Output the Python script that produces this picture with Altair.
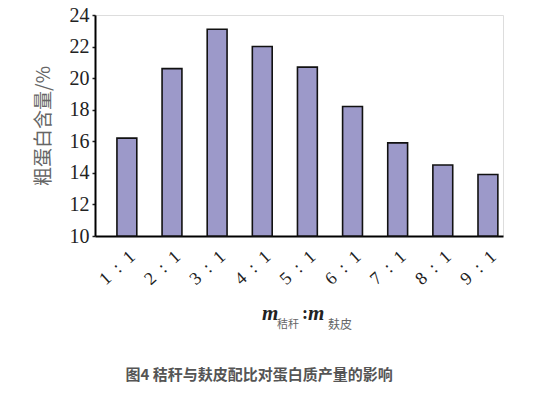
import altair as alt
import pandas as pd

ratios = ["1\u2002:\u20021", "2\u2002:\u20021", "3\u2002:\u20021", "4\u2002:\u20021", "5\u2002:\u20021",
          "6\u2002:\u20021", "7\u2002:\u20021", "8\u2002:\u20021", "9\u2002:\u20021"]
protein = [16.2, 20.6, 23.1, 22.0, 20.7, 18.2, 15.9, 14.5, 13.9]
y_ticks = [10, 12, 14, 16, 18, 20, 22, 24]
y_base = 10
y_title = "粗蛋白含量/%"
caption = "图4 秸秆与麸皮配比对蛋白质产量的影响"
m_sym = "m"
sub1 = "秸秆"
sub2 = "麸皮"

df = pd.DataFrame({"ratio": ratios, "protein": protein})

bars = alt.Chart(df).mark_bar(color="#9c99c9", stroke="#111", strokeWidth=1.6).encode(
    x=alt.X("ratio:N", sort=ratios,
            scale=alt.Scale(paddingInner=0.56, paddingOuter=0.3, align=0.81),
            axis=alt.Axis(title=None, labelAngle=-42, labelAlign="right", labelBaseline="middle",
                          labelFont="Liberation Serif", labelFontSize=18, labelColor="#222",
                          ticks=False, domainColor="#000", domainWidth=2,
                          labelPadding=18, labelOffset=6)),
    y=alt.Y("protein:Q", scale=alt.Scale(domain=[10, 24], nice=False, zero=False),
            axis=alt.Axis(values=y_ticks, title=y_title, titleFont="Noto Sans CJK SC",
                          titleFontSize=19, titleFontWeight="normal", titleColor="#666",
                          titlePadding=16, labelFont="Liberation Serif", labelFontSize=20,
                          labelColor="#222", tickSize=3, tickColor="#222", tickWidth=1.5,
                          domainColor="#000", domainWidth=2, grid=False, labelPadding=3)),
    y2=alt.datum(y_base),
)

one = alt.Data(values=[{}])

def txt(t, x, y, **kw):
    return alt.Chart(one).mark_text(text=t, align="left", baseline="alphabetic", **kw).encode(
        x=alt.value(x), y=alt.value(y))

m1 = txt(m_sym, 167, 305, font="Liberation Serif", fontSize=21, fontWeight="bold", fontStyle="italic", color="#222")
s1 = txt(sub1, 182, 313, font="Noto Sans CJK SC", fontSize=11, color="#666")
col = txt(":", 207, 304, font="Liberation Serif", fontSize=18, fontWeight="bold", color="#222")
m2 = txt(m_sym, 213, 305, font="Liberation Serif", fontSize=21, fontWeight="bold", fontStyle="italic", color="#222")
s2 = txt(sub2, 233, 314, font="Noto Sans CJK SC", fontSize=12, color="#666")
cap = alt.Chart(one).mark_text(text=caption, align="center", baseline="middle",
                               font="Noto Sans CJK SC", fontSize=15, fontWeight="bold",
                               color="#555").encode(x=alt.value(164), y=alt.value(360))

chart = alt.layer(bars, m1, s1, col, m2, s2, cap).properties(
    width=408, height=221,
    autosize=alt.AutoSizeParams(type="none"),
    padding={"left": 87, "top": 7, "right": 36, "bottom": 149},
).configure_view(strokeWidth=0).configure(background="white")

chart.save("out.html", embed_options={"renderer": "svg", "actions": False})
